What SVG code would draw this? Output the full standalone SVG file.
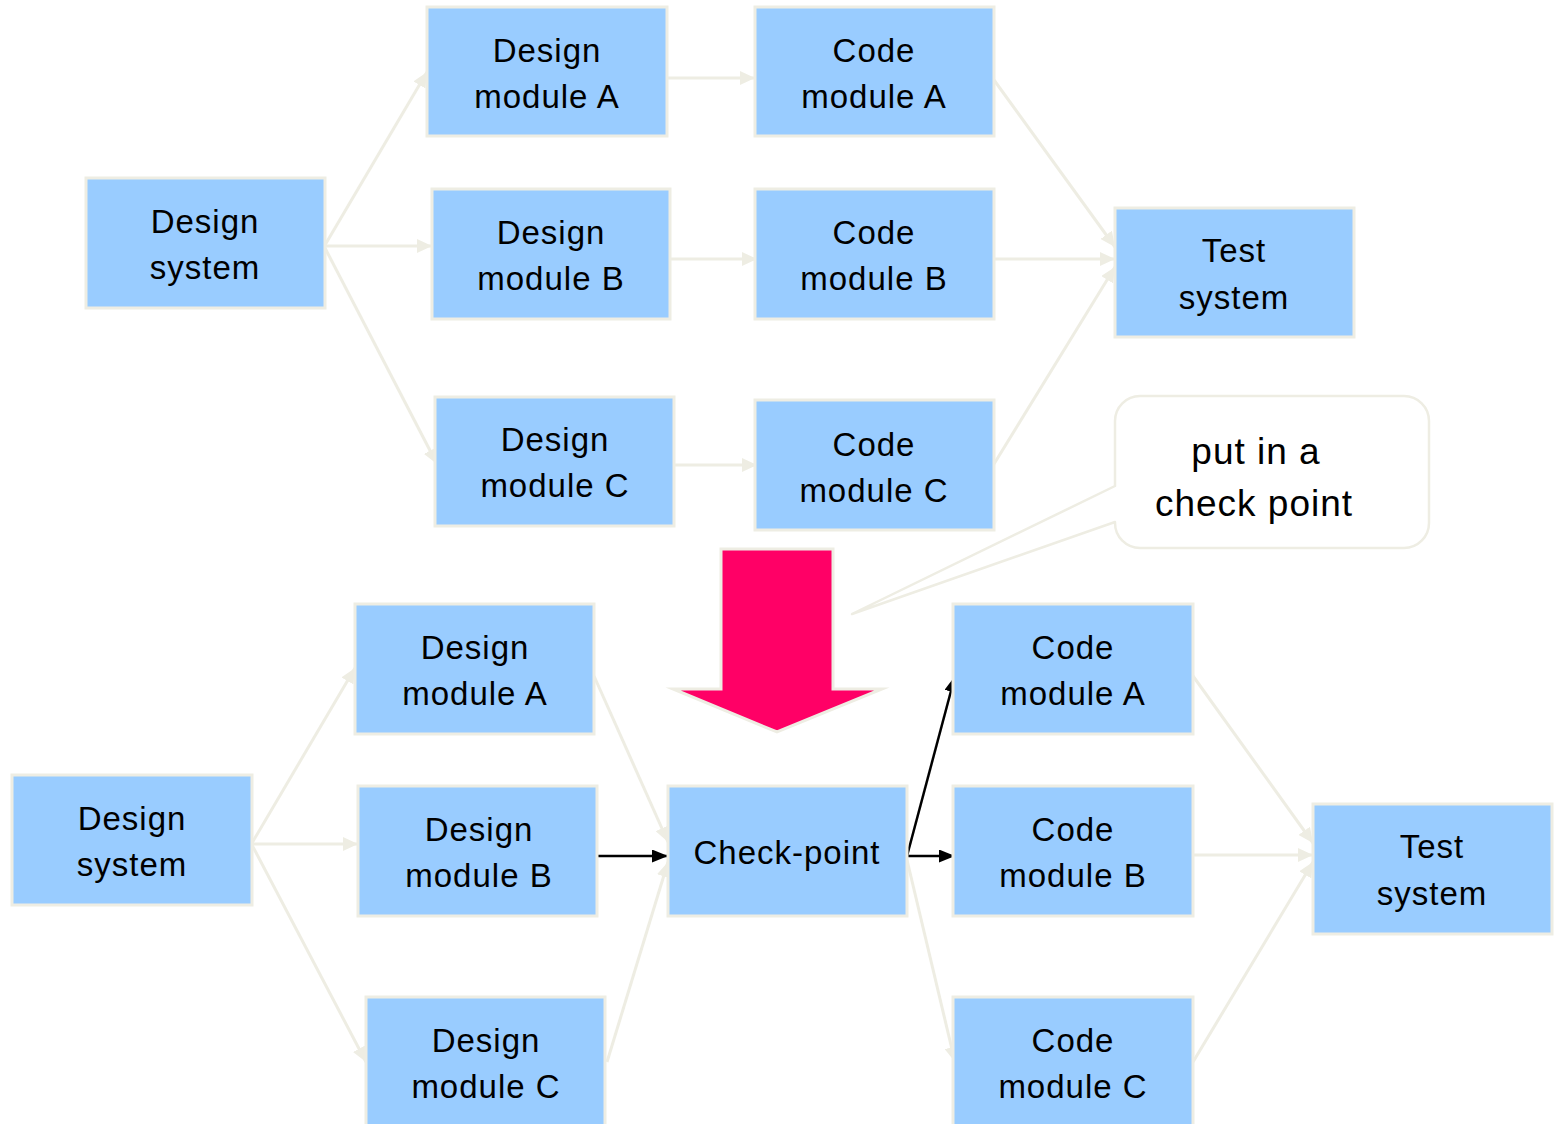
<svg xmlns="http://www.w3.org/2000/svg" width="1554" height="1124" viewBox="0 0 1554 1124">
  <style>
    .box { fill: #99CCFF; stroke: #EEEDE3; stroke-width: 3; }
    .lbl { font-family: "Liberation Sans", Arial, sans-serif; font-size: 33px; letter-spacing: 1px; fill: #000; text-anchor: middle; }
    .big { font-family: "Liberation Sans", Arial, sans-serif; font-size: 37px; letter-spacing: 1px; fill: #000; text-anchor: middle; }
    .soft { stroke: #EEEDE3; stroke-width: 3; fill: none; marker-end: url(#headSoft); }
    .hard { stroke: #000; stroke-width: 2.5; fill: none; marker-end: url(#headHard); }
  </style>
  <defs>
    <marker id="headSoft" markerUnits="userSpaceOnUse" markerWidth="16" markerHeight="14" refX="15" refY="7" orient="auto">
      <path d="M0,0 L15,7 L0,14 Z" fill="#EEEDE3"/>
    </marker>
    <marker id="headHard" markerUnits="userSpaceOnUse" markerWidth="17" markerHeight="13" refX="16" refY="6.5" orient="auto">
      <path d="M0,0 L16,6.5 L0,13 Z" fill="#000"/>
    </marker>
  </defs>
  <rect width="1554" height="1124" fill="#FFFFFF"/>

  <!-- connectors -->
  <g id="connectors">
    <!-- upper plan -->
    <line class="soft" x1="325" y1="245" x2="427" y2="72"/>
    <line class="soft" x1="325" y1="246" x2="432" y2="246"/>
    <line class="soft" x1="325" y1="248" x2="437" y2="464"/>
    <line class="soft" x1="667" y1="78" x2="755" y2="78"/>
    <line class="soft" x1="670" y1="259" x2="757" y2="259"/>
    <line class="soft" x1="674" y1="465" x2="757" y2="465"/>
    <line class="soft" x1="994" y1="80" x2="1115" y2="247"/>
    <line class="soft" x1="994" y1="259" x2="1115" y2="259"/>
    <line class="soft" x1="994" y1="464" x2="1115" y2="267"/>
    <!-- lower plan -->
    <line class="soft" x1="252" y1="843" x2="355" y2="668"/>
    <line class="soft" x1="252" y1="844" x2="358" y2="844"/>
    <line class="soft" x1="252" y1="845" x2="366" y2="1062"/>
    <line class="soft" x1="594" y1="676" x2="668" y2="842"/>
    <line class="soft" x1="607" y1="1062" x2="668" y2="862"/>
    <line class="soft" x1="907" y1="860" x2="955" y2="1062"/>
    <line class="soft" x1="1193" y1="676" x2="1313" y2="843"/>
    <line class="soft" x1="1193" y1="855" x2="1313" y2="855"/>
    <line class="soft" x1="1193" y1="1062" x2="1313" y2="862"/>
    <line class="hard" x1="597" y1="856" x2="668" y2="856"/>
    <line class="hard" x1="907" y1="856" x2="955" y2="676"/>
    <line class="hard" x1="907" y1="856" x2="955" y2="856"/>
  </g>

  <!-- upper plan nodes -->
  <g id="top-design-system"><rect class="box" x="86" y="178" width="239" height="130"/><text class="lbl" x="205" y="233">Design</text><text class="lbl" x="205" y="279">system</text></g>
  <g id="top-design-a"><rect class="box" x="427" y="7" width="240" height="129"/><text class="lbl" x="547" y="62">Design</text><text class="lbl" x="547" y="108">module A</text></g>
  <g id="top-design-b"><rect class="box" x="432" y="189" width="238" height="130"/><text class="lbl" x="551" y="244">Design</text><text class="lbl" x="551" y="290">module B</text></g>
  <g id="top-design-c"><rect class="box" x="435" y="397" width="239" height="129"/><text class="lbl" x="555" y="451">Design</text><text class="lbl" x="555" y="497">module C</text></g>
  <g id="top-code-a"><rect class="box" x="755" y="7" width="239" height="129"/><text class="lbl" x="874" y="62">Code</text><text class="lbl" x="874" y="108">module A</text></g>
  <g id="top-code-b"><rect class="box" x="755" y="189" width="239" height="130"/><text class="lbl" x="874" y="244">Code</text><text class="lbl" x="874" y="290">module B</text></g>
  <g id="top-code-c"><rect class="box" x="755" y="400" width="239" height="130"/><text class="lbl" x="874" y="456">Code</text><text class="lbl" x="874" y="502">module C</text></g>
  <g id="top-test-system"><rect class="box" x="1115" y="208" width="239" height="129"/><text class="lbl" x="1234" y="262">Test</text><text class="lbl" x="1234" y="309">system</text></g>

  <!-- callout -->
  <g id="callout">
    <path d="M1140,396 H1404 A25,25 0 0 1 1429,421 V523 A25,25 0 0 1 1404,548 H1140 A25,25 0 0 1 1115,523 V522 L852,614 L1115,486 V421 A25,25 0 0 1 1140,396 Z" fill="#FFFFFF" stroke="#EEEDE3" stroke-width="2.5" stroke-linejoin="round"/>
    <text class="big" x="1256" y="464">put in a</text>
    <text class="big" x="1254" y="516">check point</text>
  </g>

  <!-- transition arrow -->
  <g id="down-arrow">
    <polygon points="721,549 833,549 833,689 882,689 777,732 673,689 721,689" fill="#FF0066" stroke="#EEEDE3" stroke-width="3" stroke-miterlimit="20"/>
  </g>

  <!-- lower plan nodes -->
  <g id="bot-design-system"><rect class="box" x="12" y="775" width="240" height="130"/><text class="lbl" x="132" y="830">Design</text><text class="lbl" x="132" y="876">system</text></g>
  <g id="bot-design-a"><rect class="box" x="355" y="604" width="239" height="130"/><text class="lbl" x="475" y="659">Design</text><text class="lbl" x="475" y="705">module A</text></g>
  <g id="bot-design-b"><rect class="box" x="358" y="786" width="239" height="130"/><text class="lbl" x="479" y="841">Design</text><text class="lbl" x="479" y="887">module B</text></g>
  <g id="bot-design-c"><rect class="box" x="366" y="997" width="239" height="130"/><text class="lbl" x="486" y="1052">Design</text><text class="lbl" x="486" y="1098">module C</text></g>
  <g id="bot-checkpoint"><rect class="box" x="668" y="786" width="239" height="130"/><text class="lbl" x="787" y="864">Check-point</text></g>
  <g id="bot-code-a"><rect class="box" x="953" y="604" width="240" height="130"/><text class="lbl" x="1073" y="659">Code</text><text class="lbl" x="1073" y="705">module A</text></g>
  <g id="bot-code-b"><rect class="box" x="953" y="786" width="240" height="130"/><text class="lbl" x="1073" y="841">Code</text><text class="lbl" x="1073" y="887">module B</text></g>
  <g id="bot-code-c"><rect class="box" x="953" y="997" width="240" height="130"/><text class="lbl" x="1073" y="1052">Code</text><text class="lbl" x="1073" y="1098">module C</text></g>
  <g id="bot-test-system"><rect class="box" x="1313" y="804" width="239" height="130"/><text class="lbl" x="1432" y="858">Test</text><text class="lbl" x="1432" y="905">system</text></g>
</svg>
